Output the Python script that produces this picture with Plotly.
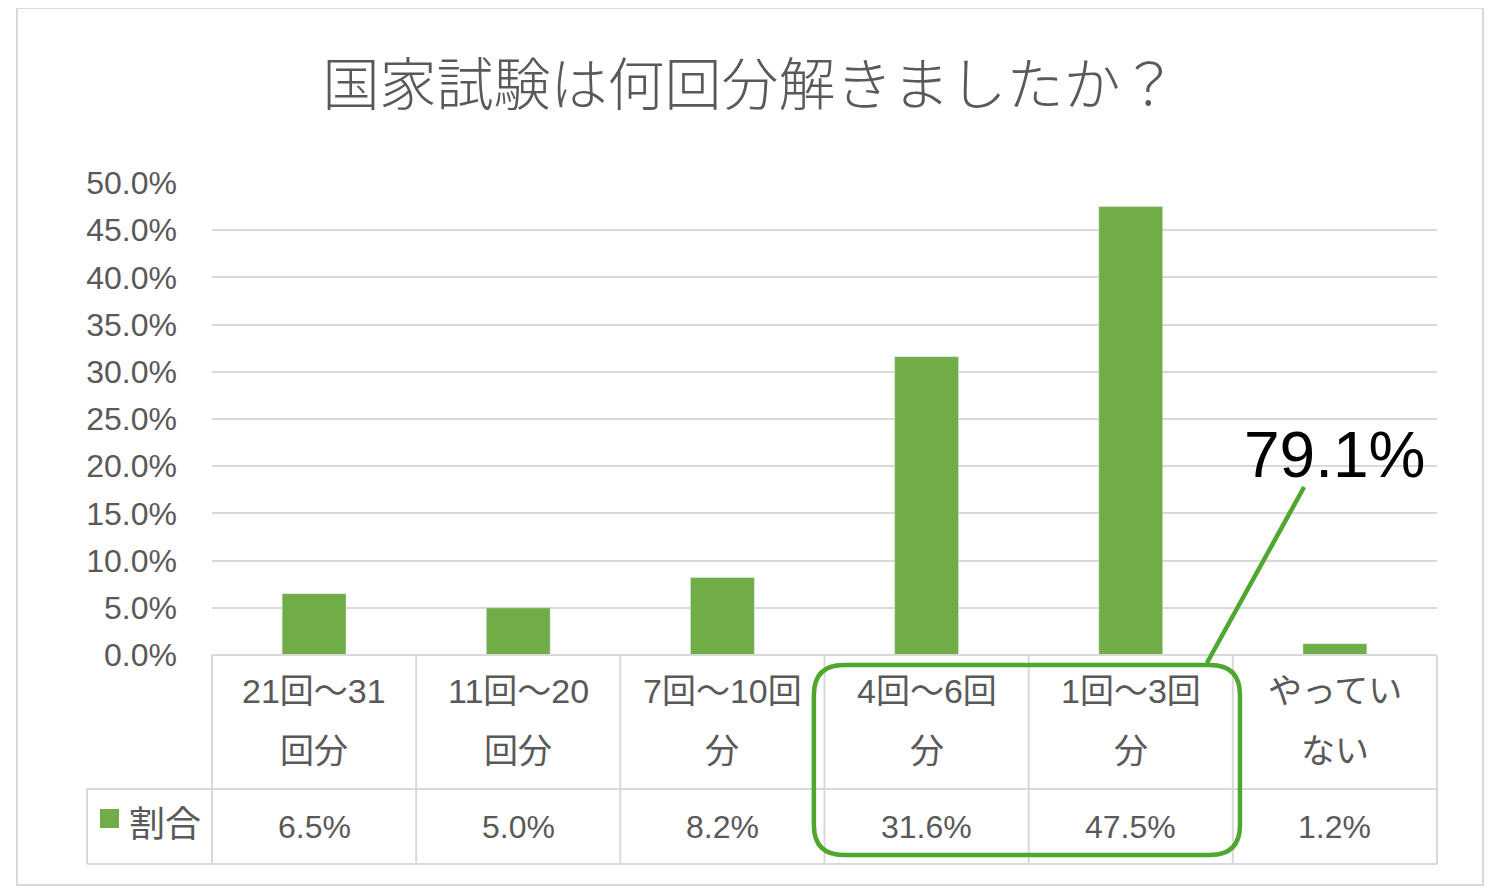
import plotly.graph_objects as go

# ---- data ----
categories = ["21回〜31回分", "11回〜20回分", "7回〜10回分", "4回〜6回分", "1回〜3回分", "やっていない"]
header_line1 = ["21回〜31", "11回〜20", "7回〜10回", "4回〜6回", "1回〜3回", "やってい"]
header_line2 = ["回分", "回分", "分", "分", "分", "ない"]
values = [6.5, 5.0, 8.2, 31.6, 47.5, 1.2]
series_name = "割合"
y_ticks = [0, 5, 10, 15, 20, 25, 30, 35, 40, 45, 50]
highlight_idx = [3, 4]
highlight_label = "79.1%"
title_text = "国家試験は何回分解きましたか？"

# ---- style ----
OFF = 8  # page body margin
SW, SH = 1497, 895
W, H = SW - OFF, SH - OFF
PL, PR, PT, PB = 212, 1437, 183, 655  # plot area in screen px
L, R, T, B = PL - OFF, SW - PR, PT - OFF, SH - PB
PW, PH = PR - PL, PB - PT
BAR_C = "#70AD47"
HL_C = "#4EA72E"
GRID_C = "#D9D9D9"
TXT_C = "#595959"
JP = "Liberation Sans, Noto Sans CJK JP, sans-serif"
n = len(categories)


def px_x(p):
    return (p - PL) / PW


def px_y(p):
    return (PB - p) / PH


fig = go.Figure()
fig.add_trace(go.Bar(x=categories, y=values, marker_color=BAR_C, name=series_name,
                     showlegend=False))

shapes = []
annos = []
line = dict(color=GRID_C, width=2)

# outer chart border
shapes.append(dict(type="rect", xref="paper", yref="paper", x0=px_x(17), x1=px_x(1483),
                   y0=px_y(885), y1=px_y(8), line=line, layer="below"))

# data table
row1 = px_y(789)
row2 = px_y(864)
left = px_x(87)
shapes.append(dict(type="line", xref="paper", yref="paper", x0=0, x1=1, y0=0, y1=0, line=line))
shapes.append(dict(type="line", xref="paper", yref="paper", x0=left, x1=1, y0=row1, y1=row1, line=line))
shapes.append(dict(type="line", xref="paper", yref="paper", x0=left, x1=1, y0=row2, y1=row2, line=line))
shapes.append(dict(type="line", xref="paper", yref="paper", x0=left, x1=left, y0=row1, y1=row2, line=line))
for i in range(n + 1):
    xb = i / n
    shapes.append(dict(type="line", xref="paper", yref="paper", x0=xb, x1=xb, y0=0, y1=row2, line=line))

for i, c in enumerate(categories):
    annos.append(dict(x=c, xref="x", yref="paper", y=px_y(691), text=header_line1[i],
                      xanchor="center", yanchor="middle",
                      showarrow=False, font=dict(family=JP, size=34, color=TXT_C)))
    annos.append(dict(x=c, xref="x", yref="paper", y=px_y(751), text=header_line2[i],
                      xanchor="center", yanchor="middle",
                      showarrow=False, font=dict(family=JP, size=34, color=TXT_C)))
    annos.append(dict(x=c, xref="x", yref="paper", y=px_y(827), text=f"{values[i]:.1f}%",
                      xanchor="center", yanchor="middle",
                      showarrow=False, font=dict(family=JP, size=32, color=TXT_C)))

# legend key in table
shapes.append(dict(type="rect", xref="paper", yref="paper", x0=px_x(100), x1=px_x(119),
                   y0=px_y(828), y1=px_y(809), line=dict(width=0), fillcolor=BAR_C))
annos.append(dict(xref="paper", yref="paper", x=px_x(127), y=px_y(824), xanchor="left",
                  yanchor="middle", text=series_name, showarrow=False,
                  font=dict(family=JP, size=36, color=TXT_C)))

# highlight rounded box around selected categories (x in category units)
x0 = highlight_idx[0] - 0.552
x1 = highlight_idx[-1] + 0.535
y0 = px_y(855)
y1 = px_y(665)
rx = 30 / (PW / n)
ry = 30 / PH
path = (f"M {x0 + rx},{y1} L {x1 - rx},{y1} Q {x1},{y1} {x1},{y1 - ry} "
        f"L {x1},{y0 + ry} Q {x1},{y0} {x1 - rx},{y0} L {x0 + rx},{y0} "
        f"Q {x0},{y0} {x0},{y0 + ry} L {x0},{y1 - ry} Q {x0},{y1} {x0 + rx},{y1} Z")
shapes.append(dict(type="path", xref="x", yref="paper", path=path,
                   line=dict(color=HL_C, width=4.5)))
# leader line
shapes.append(dict(type="line", xref="x", yref="paper", x0=highlight_idx[-1] + 0.373,
                   y0=px_y(663), x1=highlight_idx[-1] + 0.849, y1=px_y(487),
                   line=dict(color=HL_C, width=4.5)))
annos.append(dict(x=px_x(1334), y=px_y(455), xref="paper", yref="paper",
                  xanchor="center", yanchor="middle",
                  text=highlight_label, showarrow=False,
                  font=dict(family="Liberation Sans, Noto Sans CJK JP", size=64, color="#000000")))

fig.update_layout(
    width=W, height=H,
    margin=dict(l=L, r=R, t=T, b=B),
    paper_bgcolor="white", plot_bgcolor="white",
    bargap=0.687,
    title=dict(text=title_text, x=(750 - OFF) / W, xref="container", xanchor="center",
               y=1 - (85 - OFF) / H, yref="container", yanchor="middle",
               font=dict(family="Noto Sans CJK JP", size=57, color=TXT_C, weight=300)),
    shapes=shapes, annotations=annos,
    showlegend=False,
)
fig.update_xaxes(showticklabels=False, showgrid=False, zeroline=False, showline=False,
                 range=[-0.5, n - 0.5])
fig.update_yaxes(range=[0, 50], tickvals=y_ticks, ticktext=[f"{v:.1f}%" for v in y_ticks],
                 showgrid=True, gridcolor=GRID_C, gridwidth=2, zeroline=False, showline=False,
                 ticklabelstandoff=34,
                 tickfont=dict(family="Liberation Sans", size=32, color=TXT_C))

fig.write_html("out.html")
